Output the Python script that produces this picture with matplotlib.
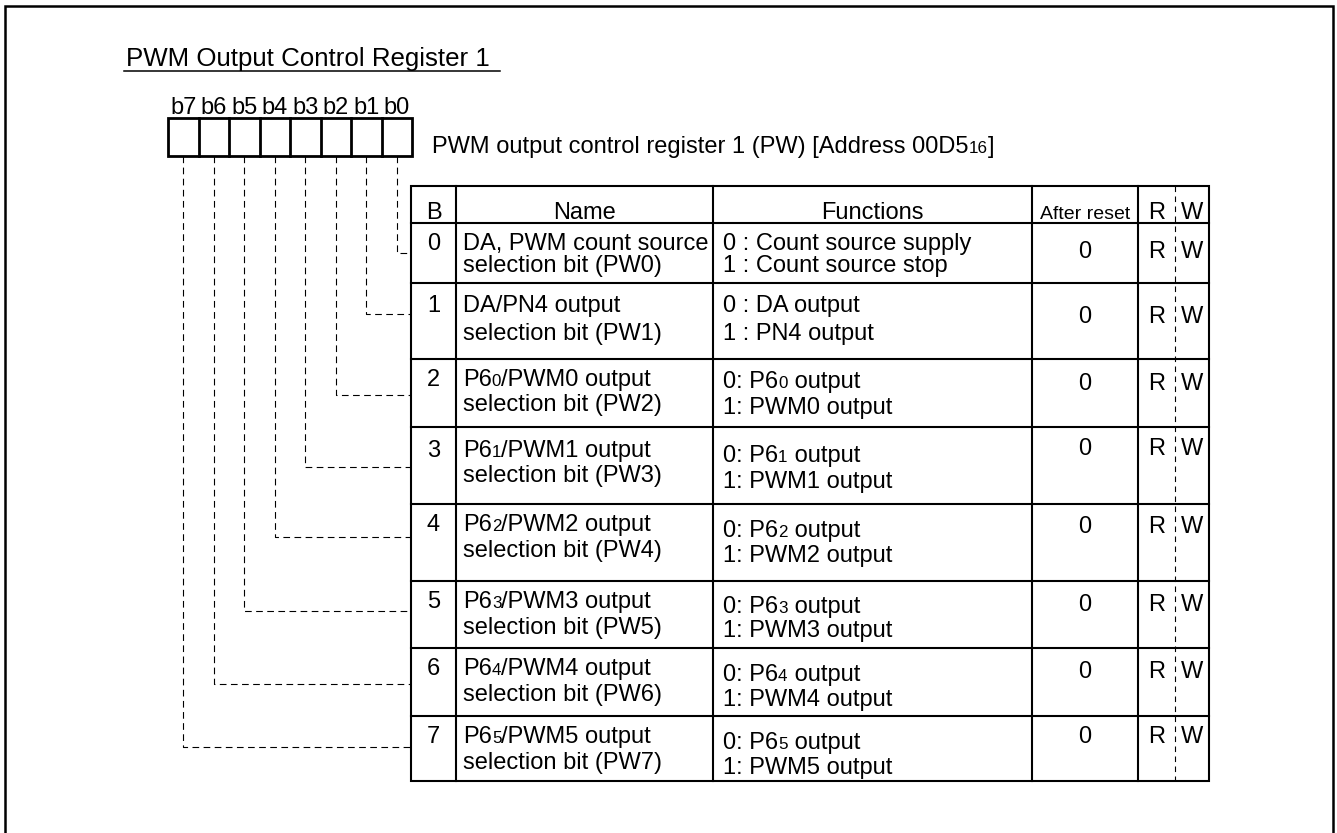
import matplotlib.pyplot as plt
from matplotlib import font_manager
from matplotlib.patches import Rectangle

plt.rcParams["font.family"] = ["Liberation Sans", "DejaVu Sans"]

# ---- content ----  ("~x~" marks a small index digit, e.g. P6~0~)
title = "PWM Output Control Register 1"
register_desc = "PWM output control register 1 (PW) [Address 00D5~16~]"
bit_labels = ["b7", "b6", "b5", "b4", "b3", "b2", "b1", "b0"]
header = ["B", "Name", "Functions", "After reset", "R", "W"]
bits = ["0", "1", "2", "3", "4", "5", "6", "7"]
names = [
    ("DA, PWM count source", "selection bit (PW0)"),
    ("DA/PN4 output", "selection bit (PW1)"),
    ("P6~0~/PWM0 output", "selection bit (PW2)"),
    ("P6~1~/PWM1 output", "selection bit (PW3)"),
    ("P6~2~/PWM2 output", "selection bit (PW4)"),
    ("P6~3~/PWM3 output", "selection bit (PW5)"),
    ("P6~4~/PWM4 output", "selection bit (PW6)"),
    ("P6~5~/PWM5 output", "selection bit (PW7)"),
]
functions = [
    ("0 : Count source supply", "1 : Count source stop"),
    ("0 : DA output", "1 : PN4 output"),
    ("0: P6~0~ output", "1: PWM0 output"),
    ("0: P6~1~ output", "1: PWM1 output"),
    ("0: P6~2~ output", "1: PWM2 output"),
    ("0: P6~3~ output", "1: PWM3 output"),
    ("0: P6~4~ output", "1: PWM4 output"),
    ("0: P6~5~ output", "1: PWM5 output"),
]
after_reset = ["0", "0", "0", "0", "0", "0", "0", "0"]
read_flag = ["R", "R", "R", "R", "R", "R", "R", "R"]
write_flag = ["W", "W", "W", "W", "W", "W", "W", "W"]

# ---- layout (pixel coordinates) ----
col_x = [411, 456, 713, 1032, 1138, 1209]
rw_split = 1175
row_y = [186, 223, 283, 359, 427, 504, 581, 648, 716, 781]
# baselines: name line 1/2, function line 1/2, reset/RW
name_base = [(250, 272), (312, 340), (386, 411), (457, 482),
             (531, 557), (608, 634), (675, 701), (743, 769)]
func_base = [(250, 272), (312, 340), (388, 414), (462, 488),
             (537, 562), (613, 637), (681, 706), (749, 774)]
reset_base = [258, 323, 390, 455, 533, 611, 678, 743]
elbow_y = [253, 314, 395, 467, 537, 611, 684, 747]

box_left, box_w, box_top, box_bot = 168, 30.5, 118, 156

FS = 17
fig = plt.figure(figsize=(13.37, 8.33), dpi=100)
ax = fig.add_axes([0, 0, 1, 1])
ax.set_xlim(0, 1337)
ax.set_ylim(833, 0)
ax.axis("off")


def seg_text(x, y, s, fs=FS):
    # draw text with small inline index digits, piece after piece
    prev = None
    for k, part in enumerate(s.split("~")):
        if not part:
            continue
        size = fs * 0.72 if k % 2 else fs
        if prev is None:
            prev = ax.text(x, y, part, fontsize=size, va="baseline")
        else:
            prev = ax.annotate(part, xy=(1, y), xycoords=(prev, "data"),
                               fontsize=size, va="baseline", ha="left")
    return prev


# outer frame (open at the bottom)
ax.plot([5, 5, 1333, 1333], [833, 5.5, 5.5, 833], color="black", lw=1.8,
        solid_joinstyle="miter")

# title with underline
ax.text(126, 66, title, fontsize=18.6, va="baseline")
ax.plot([124, 500], [71, 71], color="black", lw=1.1)

# register bit boxes
ax.add_patch(Rectangle((box_left, box_top), box_w * 8, box_bot - box_top,
                       fill=False, lw=2, ec="black"))
for i in range(1, 8):
    x = box_left + box_w * i
    ax.plot([x, x], [box_top, box_bot], color="black", lw=2)
for i, lab in enumerate(bit_labels):
    ax.text(box_left + box_w * (i + 0.5), 114, lab, fontsize=FS,
            ha="center", va="baseline")

seg_text(432, 153, register_desc)

# dashed leader lines from each bit to its row
for i in range(8):
    bit = 7 - i
    x = box_left + box_w * (i + 0.5)
    y = elbow_y[bit]
    ax.plot([x, x, col_x[0]], [box_bot, y, y], color="black", lw=0.8,
            ls=(0, (6, 4)))

# table grid
tbl_lw = 1.5
ax.add_patch(Rectangle((col_x[0], row_y[0]), col_x[-1] - col_x[0],
                       row_y[-1] - row_y[0], fill=False, lw=tbl_lw, ec="black"))
for x in col_x[1:-1]:
    ax.plot([x, x], [row_y[0], row_y[-1]], color="black", lw=tbl_lw)
for y in row_y[1:-1]:
    ax.plot([col_x[0], col_x[-1]], [y, y], color="black", lw=tbl_lw)
ax.plot([rw_split, rw_split], [row_y[0], row_y[-1]], color="black", lw=0.8,
        ls=(0, (5, 4)))

# header
names_installed = {f.name for f in font_manager.fontManager.ttflist}
hdr_base = 219
centers = [(col_x[0] + col_x[1]) / 2, (col_x[1] + col_x[2]) / 2,
           (col_x[2] + col_x[3]) / 2, (col_x[3] + col_x[4]) / 2,
           (col_x[4] + rw_split) / 2, (rw_split + col_x[5]) / 2]
for k, h in enumerate(header):
    if h == "After reset":
        if "Liberation Sans Narrow" in names_installed:
            ax.text(centers[k], hdr_base, h, fontsize=FS, ha="center",
                    va="baseline", family="Liberation Sans Narrow")
        else:
            ax.text(centers[k], hdr_base, h, fontsize=14, ha="center",
                    va="baseline")
    else:
        ax.text(centers[k], hdr_base, h, fontsize=FS, ha="center",
                va="baseline")

# body rows
for r in range(8):
    ax.text(centers[0], name_base[r][0], bits[r], fontsize=FS, ha="center",
            va="baseline")
    seg_text(col_x[1] + 7, name_base[r][0], names[r][0])
    seg_text(col_x[1] + 7, name_base[r][1], names[r][1])
    seg_text(col_x[2] + 10, func_base[r][0], functions[r][0])
    seg_text(col_x[2] + 10, func_base[r][1], functions[r][1])
    ax.text(centers[3], reset_base[r], after_reset[r], fontsize=FS,
            ha="center", va="baseline")
    ax.text(centers[4], reset_base[r], read_flag[r], fontsize=FS,
            ha="center", va="baseline")
    ax.text(centers[5], reset_base[r], write_flag[r], fontsize=FS,
            ha="center", va="baseline")

fig.savefig("out.png", dpi=100)
